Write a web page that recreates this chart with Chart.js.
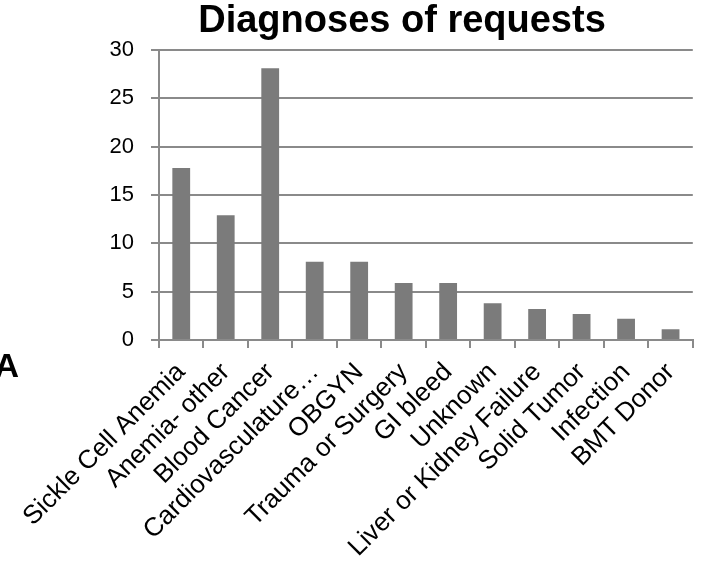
<!DOCTYPE html>
<html>
<head>
<meta charset="utf-8">
<script src="https://cdn.jsdelivr.net/npm/chart.js@4/dist/chart.umd.min.js"></script>
<style>
  html, body { margin: 0; padding: 0; background: #ffffff; }
  #wrap { position: relative; width: 702px; height: 570px; }
</style>
</head>
<body>
<div id="wrap"><canvas id="chart"></canvas></div>
<script>
// Diagnosis categories along the x axis
const categories = [
  'Sickle Cell Anemia', 'Anemia- other', 'Blood Cancer', 'Cardiovasculature…',
  'OBGYN', 'Trauma or Surgery', 'GI bleed', 'Unknown',
  'Liver or Kidney Failure', 'Solid Tumor', 'Infection', 'BMT Donor'
];
// Share of requests per diagnosis
const requestValues = [17.8, 12.9, 28.1, 8.1, 8.1, 5.9, 5.9, 3.8, 3.2, 2.7, 2.2, 1.1];
// Value axis range and step
const yTicks = { min: 0, max: 30, step: 5 };

const chartTitle = 'Diagnoses of requests';
const panelLetter = 'A';

const GRID = '#8a8a8a';
const FONT = '"Liberation Sans", Arial, sans-serif';

// Title and panel letter drawn on the canvas
const textDecor = {
  id: 'textDecor',
  afterDraw(chart) {
    const ctx = chart.ctx;
    ctx.save();
    ctx.fillStyle = '#000000';
    ctx.font = 'bold 38px ' + FONT;
    ctx.textAlign = 'center';
    ctx.textBaseline = 'alphabetic';
    ctx.fillText(chartTitle, 402, 32);
    ctx.font = 'bold 34px ' + FONT;
    ctx.textAlign = 'right';
    ctx.fillText(panelLetter, 19, 377);
    ctx.restore();
  }
};

new Chart(document.getElementById('chart'), {
  type: 'bar',
  data: {
    labels: categories,
    datasets: [{
      data: requestValues,
      backgroundColor: '#7b7b7b',
      borderWidth: 0,
      barPercentage: 0.4,
      categoryPercentage: 1.0
    }]
  },
  options: {
    responsive: true,
    maintainAspectRatio: false,
    animation: false,
    layout: { padding: { top: 50, right: 9, left: 0, bottom: 0 } },
    plugins: {
      legend: { display: false },
      title: { display: false },
      tooltip: { enabled: false }
    },
    scales: {
      x: {
        grid: {
          offset: true,
          drawOnChartArea: false,
          drawTicks: true,
          tickLength: 8,
          color: GRID,
          lineWidth: 2
        },
        border: { display: true, color: GRID, width: 2 },
        ticks: {
          autoSkip: false,
          maxRotation: 45,
          minRotation: 45,
          padding: 9,
          color: '#000000',
          font: { family: FONT, size: 26 }
        },
        afterFit(scale) { scale.height = 230; }
      },
      y: {
        min: yTicks.min,
        max: yTicks.max,
        grid: {
          color: GRID,
          lineWidth: 2,
          drawTicks: true,
          tickLength: 8
        },
        border: { display: true, color: GRID, width: 2 },
        ticks: {
          stepSize: yTicks.step,
          padding: 17,
          color: '#000000',
          font: { family: FONT, size: 22 }
        },
        afterFit(scale) { scale.width = 159; }
      }
    }
  },
  plugins: [textDecor]
});
</script>
</body>
</html>
